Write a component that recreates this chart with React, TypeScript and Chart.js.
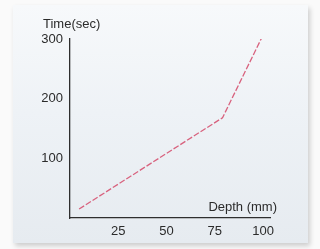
import React, { useEffect, useRef } from "react";
import { Chart, registerables } from "chart.js";

Chart.register(...registerables);

const depthMm = [4.7, 79, 99.3];
const timeSec = [15, 168, 302];
const xTickValues = [25, 50, 75, 100];
const yTickValues = [100, 200, 300];
const yAxisTitle = "Time(sec)";
const xAxisTitle = "Depth (mm)";

const FONT = "'Liberation Sans', Arial, Helvetica, sans-serif";

export default function App() {
  const ref = useRef<HTMLCanvasElement | null>(null);

  useEffect(() => {
    document.body.style.margin = "0";
    const canvas = ref.current;
    if (!canvas) return;

    const titles = {
      id: "cornerTitles",
      afterDraw(chart: any) {
        const ctx = chart.ctx;
        const { left, right, top, bottom } = chart.chartArea;
        ctx.save();
        ctx.fillStyle = "#2b2b2b";
        ctx.font = `13px ${FONT}`;
        ctx.textBaseline = "middle";
        ctx.textAlign = "left";
        ctx.fillText(yAxisTitle, left - 27, top - 15);
        ctx.textAlign = "right";
        ctx.fillText(xAxisTitle, right + 7, bottom - 11);
        ctx.restore();
      },
    };

    const chart = new Chart(canvas, {
      type: "line",
      data: {
        datasets: [
          {
            data: depthMm.map((x, i) => ({ x, y: timeSec[i] })),
            borderColor: "#d8627e",
            borderWidth: 1.3,
            borderDash: [6, 2],
            pointRadius: 0,
            tension: 0,
            fill: false,
          },
        ],
      },
      options: {
        animation: false,
        responsive: false,
        maintainAspectRatio: false,
        layout: { padding: { left: 0, top: 39, right: 50, bottom: 0 } },
        plugins: { legend: { display: false }, tooltip: { enabled: false } },
        scales: {
          x: {
            type: "linear",
            min: 0,
            max: 103.6,
            afterBuildTicks: (s: any) => {
              s.ticks = xTickValues.map((v) => ({ value: v }));
            },
            afterFit: (s: any) => {
              s.height = 31;
            },
            grid: { display: false, drawTicks: false },
            border: { display: true, color: "#2e2e2e", width: 1.3 },
            ticks: {
              color: "#2b2b2b",
              font: { family: FONT, size: 13 },
              padding: 6,
              maxRotation: 0,
            },
          },
          y: {
            type: "linear",
            min: 0,
            max: 300,
            afterBuildTicks: (s: any) => {
              s.ticks = yTickValues.map((v) => ({ value: v }));
            },
            afterFit: (s: any) => {
              s.width = 70;
            },
            grid: { display: false, drawTicks: false },
            border: { display: true, color: "#2e2e2e", width: 1.3 },
            ticks: {
              color: "#2b2b2b",
              font: { family: FONT, size: 13 },
              padding: 7,
            },
          },
        },
      },
      plugins: [titles],
    });
    return () => chart.destroy();
  }, []);

  return (
    <div
      style={{
        position: "fixed",
        left: 0,
        top: 0,
        width: 320,
        height: 249,
        background: "#fafafa",
        overflow: "hidden",
      }}
    >
      <div
        style={{
          position: "absolute",
          left: 13,
          top: 5,
          width: 295,
          height: 238,
          background: "linear-gradient(180deg, #f7f9fb 0%, #eef2f6 45%, #e6ebf0 100%)",
          boxShadow: "2px 3px 5px rgba(0,0,0,0.18)",
        }}
      />
      <canvas
        ref={ref}
        width={320}
        height={249}
        style={{ position: "absolute", left: 0, top: 0, width: 320, height: 249 }}
      />
    </div>
  );
}
